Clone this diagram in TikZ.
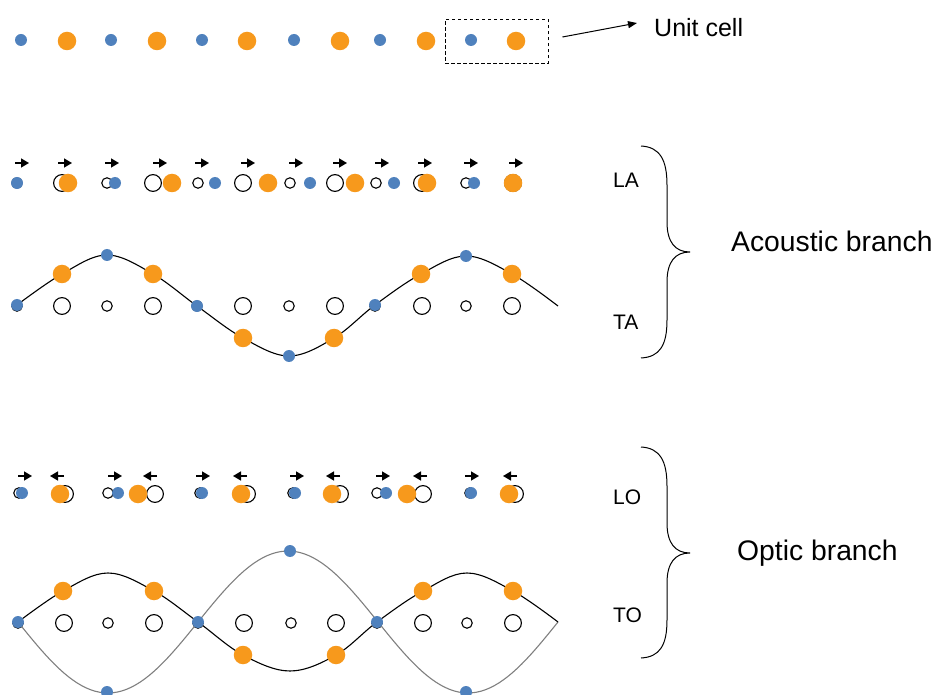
\documentclass[tikz,border=0pt]{standalone}
\usepackage{fontspec}
\setmainfont{Liberation Sans}
\usetikzlibrary{arrows.meta}
\definecolor{dotblue}{HTML}{4F81BD}
\definecolor{dotorange}{HTML}{F7991C}
\definecolor{wavegrey}{HTML}{7F7F7F}
\begin{document}
\begin{tikzpicture}[x=1pt,y=-1pt,
 bdot/.style={circle,fill=dotblue,inner sep=0pt,minimum size=12pt},
 odot/.style={circle,fill=dotorange,inner sep=0pt,minimum size=18.5pt},
 bring/.style={circle,draw=black,line width=1.1pt,inner sep=0pt,minimum size=10.5pt},
 oring/.style={circle,draw=black,line width=1.1pt,inner sep=0pt,minimum size=16.8pt},
 disp/.style={line width=1.5pt,-{Triangle[length=8pt,width=9pt]}},
 wave/.style={line width=1.1pt},
 greywave/.style={line width=1.1pt,draw=wavegrey},
 modelabel/.style={font=\fontsize{21}{25}\selectfont,anchor=base west,inner sep=0pt},
 branchlabel/.style={font=\fontsize{28.3}{33}\selectfont,anchor=base west,inner sep=0pt},
 bracestyle/.style={line width=1pt}]
\useasboundingbox (0,0) rectangle (938,695);

% ---------- chain and unit cell ----------
\foreach \x [count=\i] in {21,111,202,294,380,471} \node[bdot] (a\i) at (\x,40) {};
\foreach \x [count=\i] in {67,157,247,340,426,516} \node[odot] (b\i) at (\x,41) {};
\node[draw,dash pattern=on 3.5pt off 2.5pt,line width=0.9pt,minimum width=103pt,minimum height=44pt,inner sep=0pt] (cell) at (496.5,41.5) {};
\node[anchor=base west,inner sep=0pt,font=\fontsize{25}{30}\selectfont] (celltxt) at (654,37) {Unit cell};
\coordinate (celltip) at (637,23);
\draw[line width=1pt,-{Triangle[length=9pt,width=7pt]}] ([xshift=14pt,yshift=4.5pt]cell.east) -- (celltip);

% ---------- LA ----------
\foreach \x in {22,65,112,160,202,248,296,340,382,425,471,516}
  \draw[disp] (\x-7,163) -- (\x+7,163);
\foreach \x [count=\i] in {17,107,198,290,376,466} \node[bring] (lab\i) at (\x,183) {};
\foreach \x [count=\i] in {62,153,243,335,422,513} \node[oring] (lao\i) at (\x,183) {};
\foreach \x/\d [count=\i] in {17/0,107/8,198/17,290/20,376/18,466/8} \node[bdot] (laB\i) at (\x+\d,183) {};
\foreach \x/\d [count=\i] in {62/6,153/19,243/25,335/20,422/5,513/0} \node[odot] (laO\i) at (\x+\d,183) {};

% ---------- TA ----------
\foreach \x [count=\i] in {17,107,197,289,375,466} \node[bring] (tab\i) at (\x,306) {};
\foreach \x [count=\i] in {62,153,243,335,422,512} \node[oring] (tao\i) at (\x,306) {};
\draw[wave] plot[smooth,tension=0.6] coordinates {(17,305) (62,274) (107,255) (153,274) (197,306) (243,338) (289,356) (334,338) (375,305) (421,274) (466,256) (512,274) (558,306)};
\foreach \x/\y [count=\i] in {17/305,107/255,197/306,289/356,375/305,466/256} \node[bdot] (taB\i) at (\x,\y) {};
\foreach \x/\y [count=\i] in {62/274,153/274,243/338,334/338,421/274,512/274} \node[odot] (taO\i) at (\x,\y) {};

% ---------- LO ----------
\foreach \x in {25,115,203,297,383,472} \draw[disp] (\x-7,476) -- (\x+7,476);
\foreach \x in {57,150,240,333,420,510} \draw[disp] (\x+7,476) -- (\x-7,476);
\foreach \x [count=\i] in {19,108,200,293,377,470} \node[bring] (lob\i) at (\x,493) {};
\foreach \x [count=\i] in {65,155,247,340,423,515} \node[oring] (loo\i) at (\x,494) {};
\foreach \x/\d [count=\i] in {19/3,108/10,200/2,293/2,377/9,470/1} \node[bdot] (loB\i) at (\x+\d,493) {};
\foreach \x/\d [count=\i] in {65/-5,155/-17,247/-6,340/-8,423/-16,515/-6} \node[odot] (loO\i) at (\x+\d,494) {};

% ---------- TO ----------
\foreach \x [count=\i] in {18,108,198,291,377,467} \node[bring] (tob\i) at (\x,623) {};
\foreach \x [count=\i] in {64,154,244,336,423,513} \node[oring] (too\i) at (\x,623) {};
\draw[greywave] plot[domain=18:558,samples=120] (\x,{622+71*sin(\x-18)});
\draw[wave] plot[smooth,tension=0.6] coordinates {(18,622) (63,591) (108,573) (154,591) (198,622) (243,655) (290,671) (336,655) (377,622) (423,591) (467,573) (513,591) (558,622)};
\foreach \x/\y [count=\i] in {18/622,107/692,198/622,290/551,377/622,466/692} \node[bdot] (toB\i) at (\x,\y) {};
\foreach \x/\y [count=\i] in {63/591,154/591,243/655,336/655,423/591,513/591} \node[odot] (toO\i) at (\x,\y) {};

% ---------- braces and labels ----------
\draw[bracestyle] (641,146) .. controls (660,147) and (667,160) .. (667,185) -- (667,222)
  .. controls (667,242) and (675,252) .. (690,252)
  .. controls (675,252) and (667,262) .. (667,282) -- (667,320)
  .. controls (667,345) and (660,357) .. (641,358);
\draw[bracestyle] (641,447) .. controls (660,448) and (667,461) .. (667,486) -- (667,523)
  .. controls (667,543) and (675,553) .. (690,553)
  .. controls (675,553) and (667,563) .. (667,583) -- (667,620)
  .. controls (667,645) and (660,657) .. (641,658);
\node[modelabel] (la) at (613,188) {LA};
\node[modelabel] (ta) at (613,330) {TA};
\node[modelabel] (lo) at (613,504) {LO};
\node[modelabel] (to) at (613,622) {TO};
\node[branchlabel] (ab) at (731,252) {Acoustic branch};
\node[branchlabel] (ob) at (737,560) {Optic branch};
\end{tikzpicture}
\end{document}
